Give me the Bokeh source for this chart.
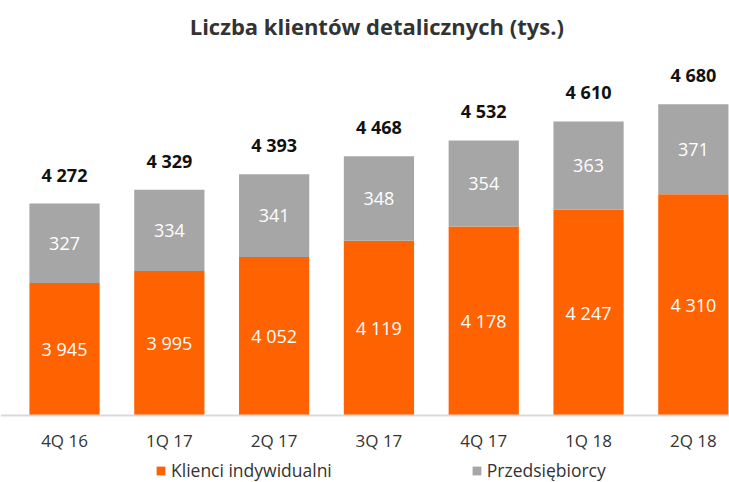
from bokeh.plotting import figure
from bokeh.models import ColumnDataSource, Range1d, Legend, LegendItem, Label, Span
from bokeh.core.properties import value
from bokeh.embed import file_html
from bokeh.resources import INLINE

quarters = ["4Q 16", "1Q 17", "2Q 17", "3Q 17", "4Q 17", "1Q 18", "2Q 18"]
individual = [3945, 3995, 4052, 4119, 4178, 4247, 4310]
business = [327, 334, 341, 348, 354, 363, 371]
totals = [4272, 4329, 4393, 4468, 4532, 4610, 4680]

Y_BASE = 3400
FONT = "Open Sans"
ORANGE = "#FF6200"
GRAY = "#A6A6A6"


def fmt(v):
    return f"{v:,}".replace(",", " ")


idx = list(range(len(quarters)))
src = ColumnDataSource(dict(
    x=idx,
    base=[Y_BASE] * len(idx),
    ind=individual,
    bus=business,
    top=[a + b for a, b in zip(individual, business)],
    tot=totals,
    ind_mid=[(Y_BASE + a) / 2 for a in individual],
    bus_mid=[a + b / 2 for a, b in zip(individual, business)],
    ind_lbl=[fmt(v) for v in individual],
    bus_lbl=[fmt(v) for v in business],
    tot_lbl=[fmt(v) for v in totals],
    cat=quarters,
))

p = figure(width=729, height=482, output_backend="svg", toolbar_location=None,
           x_range=Range1d(-0.611, 6.345), y_range=Range1d(3124, 5108),
           x_axis_location=None, y_axis_location=None,
           min_border_left=0, min_border_right=0,
           min_border_top=0, min_border_bottom=0)
p.outline_line_color = None
p.grid.visible = False
p.background_fill_color = "white"
p.border_fill_color = "white"

r1 = p.vbar(x="x", bottom="base", top="ind", width=0.67, source=src,
            fill_color=ORANGE, line_color=None)
r2 = p.vbar(x="x", bottom="ind", top="top", width=0.67, source=src,
            fill_color=GRAY, line_color=None)

p.add_layout(Span(location=Y_BASE, dimension="width", line_color="#D9D9D9",
                  line_width=2))

p.text(x="x", y="ind_mid", text="ind_lbl", source=src, text_color="white",
       text_font=value(FONT), text_font_size="18px", text_align="center",
       text_baseline="middle")
p.text(x="x", y="bus_mid", text="bus_lbl", source=src, text_color="white",
       text_font=value(FONT), text_font_size="18px", text_align="center",
       text_baseline="middle")
p.text(x="x", y="top", text="tot_lbl", source=src, text_color="#111111",
       text_font=value(FONT), text_font_size="18px", text_font_style="bold",
       text_align="center", text_baseline="middle", y_offset=-29)
p.text(x="x", y="base", text="cat", source=src, text_color="#333333",
       text_font=value(FONT), text_font_size="17px", text_align="center",
       text_baseline="middle", y_offset=25)

title = Label(x=2.98, y=5005, text="Liczba klientów detalicznych (tys.)",
              text_font=FONT, text_font_size="22px", text_font_style="bold",
              text_color="#333333", text_align="center", text_baseline="middle")
p.add_layout(title)

legend = Legend(items=[LegendItem(label="Klienci indywidualni", renderers=[r1]),
                       LegendItem(label="Przedsiębiorcy", renderers=[r2])],
                orientation="horizontal", glyph_width=11, glyph_height=11,
                label_standoff=5, spacing=139, label_height=18,
                label_text_font=FONT, label_text_font_size="17.5px",
                label_text_color="#333333",
                padding=0, margin=0, border_line_alpha=0,
                background_fill_alpha=0, location=(155, 0))
p.add_layout(legend, "center")

open("out.html", "w").write(file_html(p, INLINE))
